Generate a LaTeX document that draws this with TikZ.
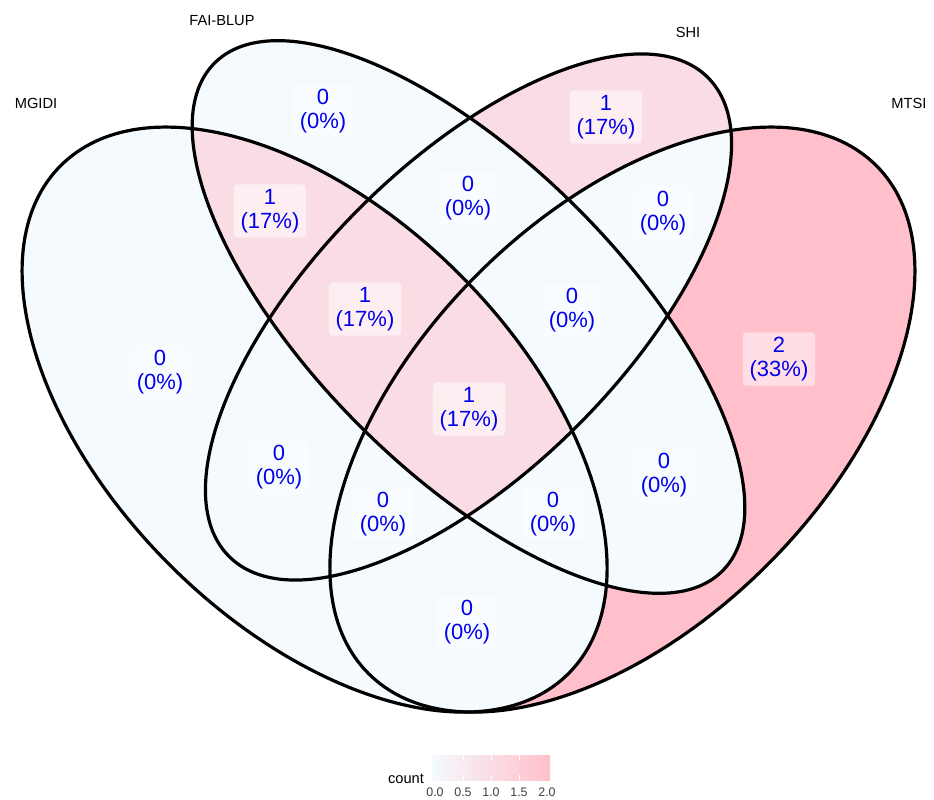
\documentclass[tikz,border=0pt]{standalone}
\usepackage{fontspec}
\setmainfont{Liberation Sans}
\definecolor{czero}{HTML}{F4FAFE}
\definecolor{cone}{RGB}{250,221,228}
\definecolor{ctwo}{HTML}{FFC0CB}
\definecolor{labblue}{RGB}{0,0,235}
\newcommand\ellA{[rotate around={135:(314.6,379.4)}] (314.6,379.4) ellipse [x radius=269.33pt, y radius=153.9pt]}
\newcommand\ellB{[rotate around={135:(468.5,482.0)}] (468.5,482.0) ellipse [x radius=269.33pt, y radius=115.43pt]}
\newcommand\ellC{[rotate around={45:(468.5,482.0)}] (468.5,482.0) ellipse [x radius=253.95pt, y radius=115.43pt]}
\newcommand\ellD{[rotate around={45:(622.4,379.4)}] (622.4,379.4) ellipse [x radius=269.33pt, y radius=153.9pt]}
\tikzset{
  cnt/.style={fill=white, fill opacity=0.5, text opacity=1, text=labblue,
    rounded corners=2.5pt, align=center, inner xsep=5pt, inner ysep=3.5pt,
    font=\fontsize{16.5}{18}\selectfont},
  setlab/.style={font=\fontsize{11}{13}\selectfont, text=black, inner sep=0pt},
  outline/.style={draw=black, line width=2.4pt},
  ticklab/.style={font=\fontsize{9.3}{11}\selectfont, text=black!75, inner sep=0pt}
}
\begin{document}
\begin{tikzpicture}[x=0.75pt,y=0.75pt]
\useasboundingbox (0,0) rectangle (934,799);
\fill[white] (0,0) rectangle (934,799);
% base fill
\fill[czero] \ellA;
\fill[czero] \ellB;
\fill[czero] \ellC;
\fill[czero] \ellD;
% D only
\begin{scope}
  \clip \ellD;
  \fill[ctwo] \ellD;
  \fill[czero] \ellA;
  \fill[czero] \ellB;
  \fill[czero] \ellC;
\end{scope}
% C only
\begin{scope}
  \clip \ellC;
  \fill[cone] \ellC;
  \fill[czero] \ellA;
  \fill[czero] \ellB;
  \fill[czero] \ellD;
\end{scope}
% A and B regions
\begin{scope}
  \clip \ellA;
  \clip \ellB;
  \fill[cone] \ellB;
  \begin{scope}
    \clip \ellD;
    \fill[czero] \ellD;
    \clip \ellC;
    \fill[cone] \ellC;
  \end{scope}
\end{scope}
% outlines
\draw[outline] \ellA;
\draw[outline] \ellB;
\draw[outline] \ellC;
\draw[outline] \ellD;
% set labels
\node[setlab] (lA) at (36,696) {MGIDI};
\node[setlab] (lB) at (222,778) {FAI-BLUP};
\node[setlab] (lC) at (688,767) {SHI};
\node[setlab] (lD) at (909,696) {MTSI};
% region counts
\node[cnt] (rB) at (323,688) {0\\(0\%)};
\node[cnt] (rC) at (606,682) {1\\(17\%)};
\node[cnt] (rAB) at (270,588) {1\\(17\%)};
\node[cnt] (rBC) at (468,601) {0\\(0\%)};
\node[cnt] (rCD) at (663,586) {0\\(0\%)};
\node[cnt] (rABC) at (365,490) {1\\(17\%)};
\node[cnt] (rBCD) at (572,489) {0\\(0\%)};
\node[cnt] (rA) at (160,427) {0\\(0\%)};
\node[cnt] (rD) at (779,440) {2\\(33\%)};
\node[cnt] (rABCD) at (469,390) {1\\(17\%)};
\node[cnt] (rAC) at (279,332) {0\\(0\%)};
\node[cnt] (rBD) at (664,324) {0\\(0\%)};
\node[cnt] (rACD) at (383,285) {0\\(0\%)};
\node[cnt] (rABD) at (553,285) {0\\(0\%)};
\node[cnt] (rAD) at (467,177) {0\\(0\%)};
% legend
\shade[left color=czero, right color=ctwo] (432,19) rectangle (550,44);
\foreach \t in {463,491,519} {
  \draw[white, line width=0.5pt] (\t,19) -- (\t,24);
  \draw[white, line width=0.5pt] (\t,39) -- (\t,44);
}
\node[setlab, anchor=base] (ltitle) at (406,16) {count};
\node[ticklab] (t0) at (435,7) {0.0};
\node[ticklab] (t1) at (463,7) {0.5};
\node[ticklab] (t2) at (491,7) {1.0};
\node[ticklab] (t3) at (519,7) {1.5};
\node[ticklab] (t4) at (547,7) {2.0};
\end{tikzpicture}
\end{document}
